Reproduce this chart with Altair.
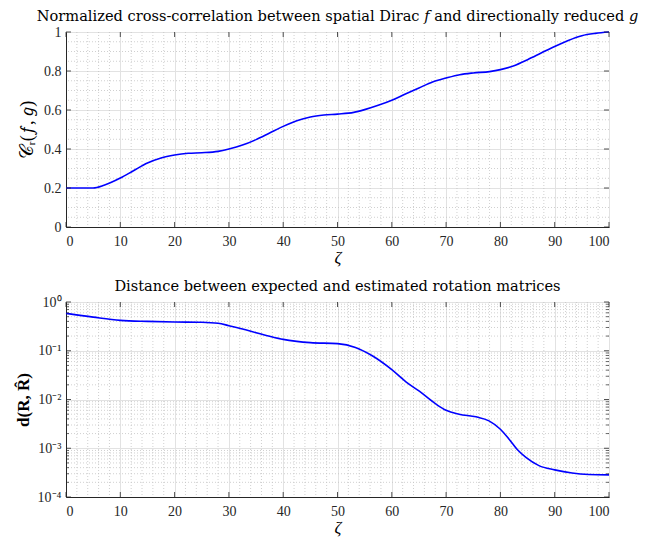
import altair as alt
import pandas as pd
import numpy as np

# ---------------- data ----------------
zeta_top = [0, 2.5, 5, 7, 10, 12.5, 15, 17.5, 20, 22.5, 25, 28, 30, 32.5, 35, 37.5, 40,
            42.5, 45, 47.5, 50, 53, 55, 57.5, 60, 62.5, 65, 67.5, 70, 72.5, 75, 78, 80,
            82.5, 85, 87.5, 90, 92.5, 95, 97.5, 100]
corr_vals = [0.2, 0.2, 0.2, 0.214, 0.251, 0.29, 0.328, 0.354, 0.369, 0.378, 0.381, 0.388,
             0.40, 0.42, 0.448, 0.482, 0.516, 0.545, 0.564, 0.574, 0.579, 0.588, 0.602,
             0.624, 0.65, 0.682, 0.713, 0.744, 0.764, 0.781, 0.79, 0.797, 0.807, 0.827,
             0.858, 0.892, 0.926, 0.957, 0.981, 0.993, 1.0]

zeta_bot = [0, 5, 10, 15, 20, 25, 28, 30, 32.5, 35, 37.5, 40, 42.5, 45, 50, 53.3, 56.4,
            60, 62.6, 65, 68.1, 70, 72.4, 75.5, 77.9, 80, 81.6, 83.1, 84.7, 87.1, 90,
            93.2, 96.3, 100]
dist_vals = [0.586, 0.49, 0.42, 0.40, 0.389, 0.383, 0.366, 0.327, 0.279, 0.234, 0.198,
             0.171, 0.156, 0.147, 0.14, 0.117, 0.079, 0.041, 0.023, 0.015, 0.0081, 0.006,
             0.005, 0.00441, 0.00365, 0.00245, 0.00153, 0.00094, 0.00065, 0.00044,
             0.00036, 0.00031, 0.00029, 0.000285]

x_ticks = [0, 10, 20, 30, 40, 50, 60, 70, 80, 90, 100]
y_ticks_top = [0, 0.2, 0.4, 0.6, 0.8, 1.0]
y_ticks_bot = [1e-4, 1e-3, 1e-2, 1e-1, 1.0]

title_top = "Normalized cross-correlation between spatial Dirac 𝑓 and directionally reduced 𝑔"
title_bot = "Distance between expected and estimated rotation matrices"
ytitle_top = "𝒞ᵣ(𝑓, 𝑔)"
ytitle_bot = "d(R, R̂)"
xtitle = "ζ"

# ---------------- derived helpers (grid / tick positions) ----------------
x_minor = [v for v in range(0, 101, 2) if v % 10 != 0]
y_minor_top = [round(v * 0.05, 2) for v in range(21) if v % 4 != 0]
y_minor_bot = [k * 10.0 ** e for e in range(-4, 0) for k in range(2, 10)]

W, H = 543, 195
FONT = "Liberation Serif"
TFONT = "DejaVu Serif"
AX = "#262626"
BLUE = "#0000ff"
MINOR = "#c4c4c4"


def panel(zeta, vals, ymajor, yminor, yscale, ytitle, title, log=False):
    xs = alt.Scale(domain=[0, 100], nice=False, zero=False)
    line_df = pd.DataFrame({"zeta": zeta, "val": vals})

    common = dict(grid=True, ticks=False, labelFont=FONT, titleFont=FONT,
                  labelFontSize=14, labelColor=AX,
                  titleColor="black", domainColor=AX, domainWidth=1,
                  gridColor="#e2e2e2", gridWidth=1)
    if log:
        label_expr = "'10' + ['⁰','⁻¹','⁻²','⁻³','⁻⁴'][-round(log(datum.value)/LN10)]"
        yaxis = alt.Axis(values=ymajor, labelExpr=label_expr, title=ytitle,
                         titlePadding=5, labelPadding=5, titleFontWeight="bold",
                         titleFontSize=17, **common)
    else:
        yaxis = alt.Axis(values=ymajor, format="~g", title=ytitle,
                         titlePadding=7, labelPadding=5, titleFontWeight="normal",
                         titleFontSize=18.5, **common)

    xaxis = alt.Axis(values=x_ticks, title=xtitle, titleFontStyle="italic",
                     titleFontWeight="normal", labelPadding=7, titlePadding=1,
                     titleFontSize=17, **common)

    X = lambda: alt.X("zeta:Q", scale=xs, axis=xaxis)
    Y = lambda: alt.Y("val:Q", scale=yscale, axis=yaxis)

    line = alt.Chart(line_df).mark_line(color=BLUE, strokeWidth=1.6,
                                        interpolate="monotone").encode(x=X(), y=Y())

    xminor_rule = alt.Chart(pd.DataFrame({"zeta": x_minor})).mark_rule(
        color=MINOR, strokeDash=[1, 2], strokeWidth=0.8).encode(x=X())
    yminor_rule = alt.Chart(pd.DataFrame({"val": yminor})).mark_rule(
        color=MINOR, strokeDash=[1, 2], strokeWidth=0.8).encode(y=Y())

    xt = pd.DataFrame({"zeta": x_ticks})
    yt = pd.DataFrame({"val": ymajor})
    tick_layers = [
        alt.Chart(xt).mark_rule(color=AX, strokeWidth=0.8).encode(
            x=X(), y=alt.value(H - 5), y2=alt.value(H)),
        alt.Chart(xt).mark_rule(color=AX, strokeWidth=0.8).encode(
            x=X(), y=alt.value(0), y2=alt.value(5)),
        alt.Chart(yt).mark_rule(color=AX, strokeWidth=0.8).encode(
            y=Y(), x=alt.value(0), x2=alt.value(5)),
        alt.Chart(yt).mark_rule(color=AX, strokeWidth=0.8).encode(
            y=Y(), x=alt.value(W - 5), x2=alt.value(W)),
    ]
    if log:
        ym = pd.DataFrame({"val": yminor})
        tick_layers += [
            alt.Chart(ym).mark_rule(color=AX, strokeWidth=0.7).encode(
                y=Y(), x=alt.value(0), x2=alt.value(3)),
            alt.Chart(ym).mark_rule(color=AX, strokeWidth=0.7).encode(
                y=Y(), x=alt.value(W - 3), x2=alt.value(W)),
        ]

    return alt.layer(xminor_rule, yminor_rule, line, *tick_layers).properties(
        width=W, height=H,
        title=alt.TitleParams(title, fontSize=14.6, font=TFONT, fontWeight="normal",
                              color="black", offset=1, anchor="middle"),
    )


top = panel(zeta_top, corr_vals, y_ticks_top, y_minor_top,
            alt.Scale(domain=[0, 1], nice=False, zero=False), ytitle_top, title_top)
bot = panel(zeta_bot, dist_vals, y_ticks_bot, y_minor_bot,
            alt.Scale(type="log", domain=[1e-4, 1], nice=False), ytitle_bot, title_bot,
            log=True)

chart = alt.vconcat(top, bot, spacing=12).properties(
    padding={"left": 5, "top": 0, "right": 0, "bottom": 2}
).configure_view(
    stroke=AX, strokeWidth=1
)

chart.save("out.html", embed_options={"renderer": "svg", "actions": False})
